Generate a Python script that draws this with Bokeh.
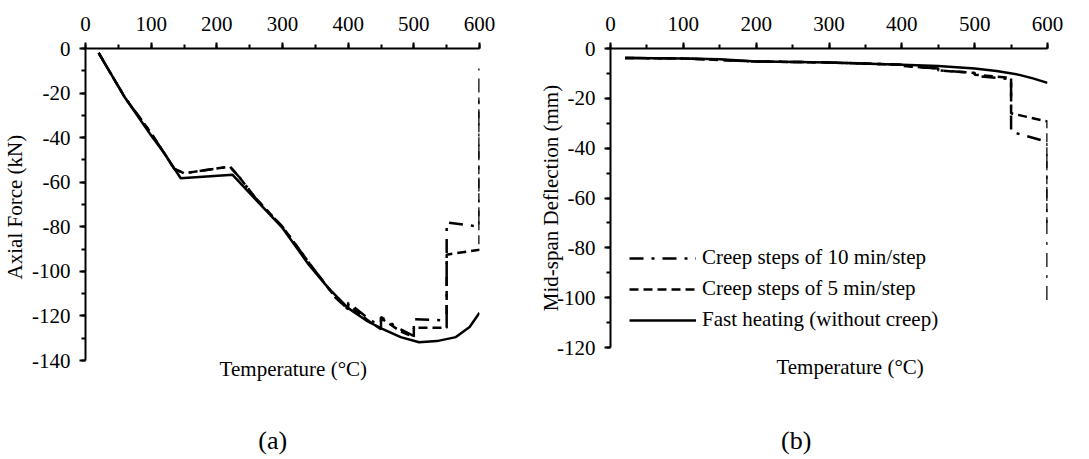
from bokeh.plotting import figure
from bokeh.layouts import row
from bokeh.models import (Range1d, Legend, LegendItem, LinearAxis, SingleIntervalTicker,
                          FixedTicker, PrintfTickFormatter)
from bokeh.embed import file_html
from bokeh.resources import INLINE

# ---------------- data: (a) axial force ----------------
a_fast_T = [20, 60, 100, 120, 145, 224, 260, 300, 340, 370, 400, 430, 452, 480, 508, 535, 564, 585, 600]
a_fast_F = [-2, -22, -39, -47, -58.2, -56.7, -68, -80.5, -97, -107.5, -116.5, -122.5, -125.8, -129.5, -131.8, -131.3, -129.5, -125, -118.6]

a_c5_T = [20, 60, 100, 120, 135, 150, 220, 235, 260, 300, 340, 380, 400, 400, 430, 450, 450, 480, 500, 500, 550, 550, 600, 600]
a_c5_F = [-2, -22, -38, -47, -54, -56, -53, -58, -67.5, -80, -96, -111.5, -117, -115, -122, -126, -121, -127, -129.5, -125.3, -125.3, -92.5, -90.3, -22]

a_c10_T = [20, 60, 100, 120, 135, 150, 220, 235, 260, 300, 340, 380, 400, 400, 430, 450, 450, 480, 500, 500, 550, 550, 600, 600]
a_c10_F = [-2, -22, -38, -47, -54, -56, -53, -58, -67.5, -80, -96, -111.5, -117, -114, -121, -125, -120.5, -126, -129, -121.5, -122, -78, -80, -9]

# ---------------- data: (b) mid-span deflection ----------------
b_fast_T = [20, 100, 150, 200, 300, 400, 450, 500, 530, 560, 580, 600]
b_fast_D = [-3.8, -4, -4.3, -5.2, -5.6, -6.5, -7, -8, -9, -10.5, -12, -13.8]

b_c5_T = [20, 100, 200, 300, 400, 400, 450, 450, 500, 500, 550, 550, 600, 600]
b_c5_D = [-3.8, -4, -5.2, -5.6, -6.5, -7, -8, -8.8, -9.8, -10.5, -11.8, -26, -29.3, -70]

b_c10_T = [20, 100, 200, 300, 400, 400, 450, 450, 500, 500, 550, 550, 600, 600]
b_c10_D = [-3.8, -4, -5.2, -5.6, -6.5, -7, -8, -8.8, -9.8, -11, -12.3, -33.4, -37.5, -101.5]

legend_labels = ["Creep steps of 10 min/step", "Creep steps of 5 min/step", "Fast heating (without creep)"]
x_title = "Temperature (°C)"
y_title_a = "Axial  Force (kN)"
y_title_b = "Mid-span Deflection (mm)"
panel_a = "(a)"
panel_b = "(b)"

FONT = "Liberation Serif"
TICK_FS = "21px"
TITLE_FS = "21px"
LW = 2.5
DASH = "9 5"
DASHDOT = "14 8 3 8"


def base_fig(frame_w, frame_h, left, right, top, bottom, ymin):
    p = figure(frame_width=frame_w, frame_height=frame_h, min_border_left=left,
               min_border_right=right, min_border_top=top, min_border_bottom=bottom,
               x_range=Range1d(0, 600), y_range=Range1d(ymin, 0),
               x_axis_location="above", output_backend="svg", toolbar_location=None)
    p.outline_line_color = None
    p.xgrid.visible = False
    p.ygrid.visible = False
    p.background_fill_color = "white"
    p.border_fill_color = "white"
    for ax in (p.xaxis[0], p.yaxis[0]):
        ax.axis_line_width = 2
        ax.axis_line_color = "black"
        ax.major_tick_line_width = 2
        ax.minor_tick_line_width = 2
        ax.major_tick_in = 0
        ax.major_tick_out = 6
        ax.minor_tick_in = 0
        ax.minor_tick_out = 4
        ax.major_label_text_font = FONT
        ax.major_label_text_font_size = TICK_FS
        ax.major_label_text_color = "black"
        ax.formatter = PrintfTickFormatter(format="%d")
        ax.axis_label_text_font = FONT
        ax.axis_label_text_font_size = TITLE_FS
        ax.axis_label_text_font_style = "normal"
        ax.axis_label_text_color = "black"
    p.xaxis[0].ticker = SingleIntervalTicker(interval=100, num_minor_ticks=2)
    p.yaxis[0].ticker = SingleIntervalTicker(interval=20, num_minor_ticks=2)
    p.xaxis[0].major_label_standoff = 12
    p.yaxis[0].major_label_standoff = 9
    return p


def text_axis(p, at, txt, size, standoff):
    ax = LinearAxis(ticker=FixedTicker(ticks=[at]), major_label_overrides={at: txt})
    ax.axis_line_color = None
    ax.major_tick_line_color = None
    ax.minor_tick_line_color = None
    ax.major_tick_out = 0
    ax.major_tick_in = 0
    ax.minor_tick_out = 0
    ax.major_label_standoff = standoff
    ax.major_label_text_font = FONT
    ax.major_label_text_font_size = size
    ax.major_label_text_color = "black"
    p.add_layout(ax, "below")


# ---------------- panel (a) ----------------
pa = base_fig(394, 312, 83, 55, 47, 100, -140)
pa.line(a_c10_T, a_c10_F, line_color="black", line_width=LW, line_dash=DASHDOT)
pa.line(a_c5_T, a_c5_F, line_color="black", line_width=LW, line_dash=DASH)
pa.line(a_fast_T, a_fast_F, line_color="black", line_width=LW)
pa.yaxis[0].axis_label = y_title_a
pa.yaxis[0].axis_label_standoff = 2
text_axis(pa, 316.5, x_title, TITLE_FS, -4)
text_axis(pa, 285, panel_a, "26px", 42)

# ---------------- panel (b) ----------------
pb = base_fig(437, 299, 76, 44, 48, 112, -120)
r10 = pb.line(b_c10_T, b_c10_D, line_color="black", line_width=LW, line_dash=DASHDOT)
r5 = pb.line(b_c5_T, b_c5_D, line_color="black", line_width=LW, line_dash=DASH)
rf = pb.line(b_fast_T, b_fast_D, line_color="black", line_width=LW)
pb.yaxis[0].axis_label = y_title_b
pb.yaxis[0].axis_label_standoff = -9
text_axis(pb, 329, x_title, TITLE_FS, 7)
text_axis(pb, 255, panel_b, "26px", 44)

legend = Legend(items=[LegendItem(label=legend_labels[0], renderers=[r10]),
                       LegendItem(label=legend_labels[1], renderers=[r5]),
                       LegendItem(label=legend_labels[2], renderers=[rf])],
                location=(19, 15), orientation="vertical",
                glyph_width=67, glyph_height=24, label_height=24,
                label_standoff=6, spacing=6, padding=0, margin=0,
                label_text_font=FONT, label_text_font_size=TITLE_FS,
                label_text_color="black",
                border_line_color=None, background_fill_alpha=0)
pb.add_layout(legend)

layout = row(pa, pb, spacing=0)
open("out.html", "w").write(file_html(layout, INLINE))
